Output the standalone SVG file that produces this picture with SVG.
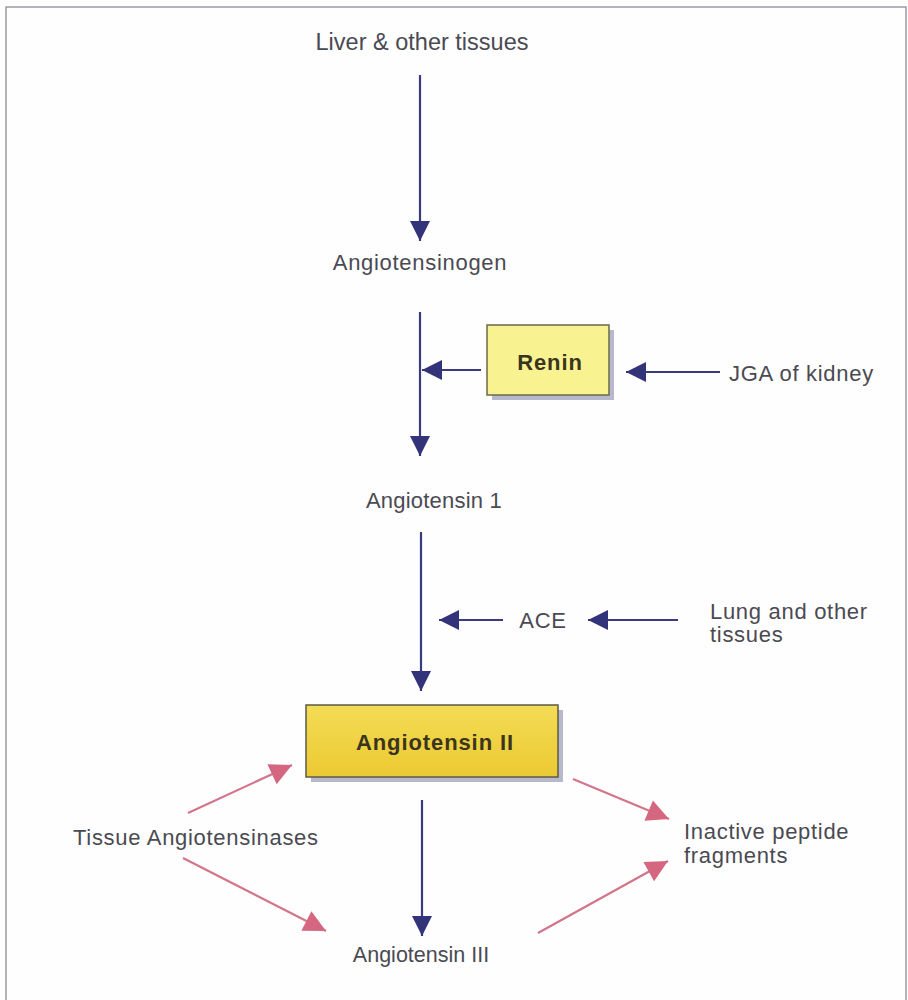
<svg xmlns="http://www.w3.org/2000/svg" width="908" height="1000" viewBox="0 0 908 1000">
<defs>
<style>
text{font-family:"Liberation Sans",Arial,sans-serif;font-size:22px;letter-spacing:0.7px;fill:#4a4a52}
.n{font-family:"Liberation Sans Narrow","Liberation Sans",sans-serif;letter-spacing:0}
.b{stroke:#3a3a7e;stroke-width:2.2;fill:none}
.p{stroke:#d3758a;stroke-width:2.2;fill:none}
.bold{font-weight:bold;fill:#3a3520;letter-spacing:0.9px}
</style>
<marker id="ab" viewBox="0 0 10 10" refX="10" refY="5" markerWidth="26" markerHeight="20" markerUnits="userSpaceOnUse" orient="auto"><path d="M0,0 L10,5 L0,10 Z" fill="#33337a"/></marker>
<marker id="ap" viewBox="0 0 10 10" refX="10" refY="5" markerWidth="24" markerHeight="22" markerUnits="userSpaceOnUse" orient="auto"><path d="M0,0 L10,5 L0,10 Z" fill="#d4667f"/></marker>
<linearGradient id="g2" x1="0" y1="0" x2="0" y2="1"><stop offset="0" stop-color="#f3dc55"/><stop offset="1" stop-color="#ecc932"/></linearGradient>
</defs>
<rect width="908" height="1000" fill="#fefefe"/>
<path d="M6,1000 V7 H906 V1000" fill="none" stroke="#9a9aa6" stroke-width="1.5"/>
<g id="connectors">
<line class="b" x1="420" y1="75" x2="420" y2="241" marker-end="url(#ab)"/>
<line class="b" x1="420" y1="312" x2="420" y2="456" marker-end="url(#ab)"/>
<line class="b" x1="481" y1="370" x2="422" y2="370" marker-end="url(#ab)"/>
<line class="b" x1="720" y1="372" x2="626" y2="372" marker-end="url(#ab)"/>
<line class="b" x1="421" y1="532" x2="421" y2="691" marker-end="url(#ab)"/>
<line class="b" x1="503" y1="620" x2="439" y2="620" marker-end="url(#ab)"/>
<line class="b" x1="678" y1="620" x2="588" y2="620" marker-end="url(#ab)"/>
<line class="b" x1="422" y1="800" x2="422" y2="936" marker-end="url(#ab)"/>
<line class="p" x1="188" y1="813" x2="292" y2="765" marker-end="url(#ap)"/>
<line class="p" x1="183" y1="858" x2="326" y2="931" marker-end="url(#ap)"/>
<line class="p" x1="573" y1="779" x2="669" y2="819" marker-end="url(#ap)"/>
<line class="p" x1="538" y1="933" x2="668" y2="861" marker-end="url(#ap)"/>
</g>
<g id="liver"><text class="n" x="422" y="50" text-anchor="middle" style="font-size:23.5px">Liver &amp; other tissues</text></g>
<g id="angiotensinogen"><text x="420" y="270" text-anchor="middle">Angiotensinogen</text></g>
<g id="renin">
<rect x="492" y="330" width="122" height="70" fill="#b8b8cc"/>
<rect x="487" y="325" width="122" height="70" fill="#f8f290" stroke="#6a6a4a" stroke-width="1.5"/>
<text class="bold" x="550" y="370" text-anchor="middle">Renin</text>
</g>
<g id="jga"><text x="729" y="381">JGA of kidney</text></g>
<g id="angiotensin1"><text x="366" y="508" style="letter-spacing:0.2px">Angiotensin 1</text></g>
<g id="ace"><text x="543" y="628" text-anchor="middle">ACE</text></g>
<g id="lung"><text x="710" y="619">Lung and other</text><text x="710" y="642">tissues</text></g>
<g id="angiotensin2">
<rect x="311" y="710" width="252" height="72" fill="#b8b8cc"/>
<rect x="306" y="705" width="252" height="72" fill="url(#g2)" stroke="#5a5a4a" stroke-width="1.5"/>
<text class="bold" x="435" y="750" text-anchor="middle">Angiotensin II</text>
</g>
<g id="angiotensinases"><text x="73" y="845">Tissue Angiotensinases</text></g>
<g id="inactive"><text x="684" y="839">Inactive peptide</text><text x="684" y="863">fragments</text></g>
<g id="angiotensin3"><text class="n" x="421" y="962" text-anchor="middle" style="font-size:21.5px">Angiotensin III</text></g>
</svg>
